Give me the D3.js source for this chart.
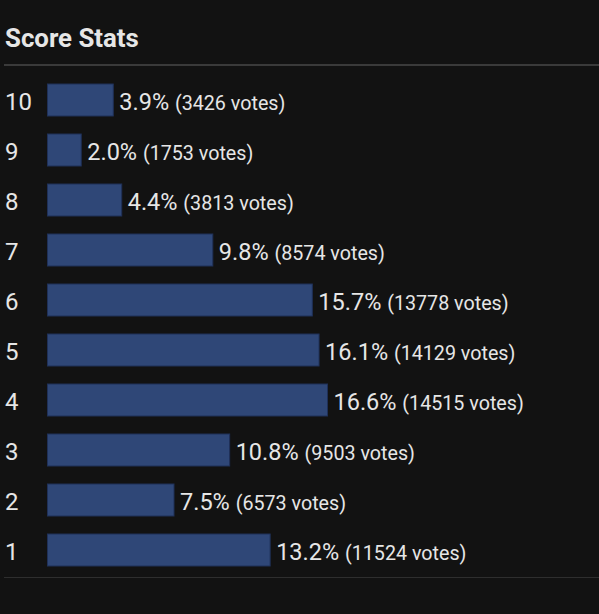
<!DOCTYPE html>
<html>
<head>
<meta charset="utf-8">
<script src="https://cdn.jsdelivr.net/npm/d3@7"></script>
<style>
  html, body { margin: 0; padding: 0; background: #121212; }
  svg { display: block; font-family: Roboto, "Noto Sans", sans-serif; }
</style>
</head>
<body>
<svg id="chart" width="599" height="614"></svg>
<script>
// score categories, top to bottom
const scores = ["10", "9", "8", "7", "6", "5", "4", "3", "2", "1"];
const percents = [3.9, 2.0, 4.4, 9.8, 15.7, 16.1, 16.6, 10.8, 7.5, 13.2];
const votes = [3426, 1753, 3813, 8574, 13778, 14129, 14515, 9503, 6573, 11524];

const W = 599, H = 614;
const svg = d3.select("#chart");

svg.append("rect").attr("width", W).attr("height", H).attr("fill", "#121212");

// title + divider lines
svg.append("text")
  .attr("x", 5)
  .attr("y", 47)
  .attr("fill", "#e6e6e6")
  .attr("font-size", 25.8)
  .attr("font-weight", "bold")
  .text("Score Stats");

svg.append("line")
  .attr("x1", 4).attr("x2", W)
  .attr("y1", 65).attr("y2", 65)
  .attr("stroke", "#3a3a3a").attr("stroke-width", 2);

svg.append("line")
  .attr("x1", 4).attr("x2", W)
  .attr("y1", 577.5).attr("y2", 577.5)
  .attr("stroke", "#2e2e2e").attr("stroke-width", 1);

const rows = scores.map((s, i) => ({ score: s, pct: percents[i], votes: votes[i] }));

const x0 = 47.5;
const x = d3.scaleLinear()
  .domain([0, d3.max(percents)])
  .range([0, 280]);

const y = d3.scaleBand()
  .domain(scores)
  .range([75, 575])
  .paddingInner(0.36)
  .paddingOuter(0.18);

const g = svg.selectAll(".row")
  .data(rows)
  .enter()
  .append("g")
  .attr("class", "row");

// score labels on the left
g.append("text")
  .attr("x", 5)
  .attr("y", d => y(d.score) + y.bandwidth() / 2)
  .attr("dy", "0.42em")
  .attr("fill", "#e6e6e6")
  .attr("font-size", 24)
  .text(d => d.score);

g.append("rect")
  .attr("x", x0)
  .attr("y", d => y(d.score))
  .attr("width", d => x(d.pct))
  .attr("height", y.bandwidth())
  .attr("fill", "#2f4777")
  .attr("stroke", "#1f3058")
  .attr("stroke-width", 1);

// value labels
const lbl = g.append("text")
  .attr("x", d => x0 + x(d.pct) + 6)
  .attr("y", d => y(d.score) + y.bandwidth() / 2 + 9.5);

lbl.append("tspan")
  .attr("fill", "#e6e6e6")
  .attr("font-size", 23.5)
  .text(d => d.pct.toFixed(1) + "% ");

lbl.append("tspan")
  .attr("fill", "#e6e6e6")
  .attr("font-size", 19.7)
  .text(d => "(" + d.votes + " votes)");
</script>
</body>
</html>
